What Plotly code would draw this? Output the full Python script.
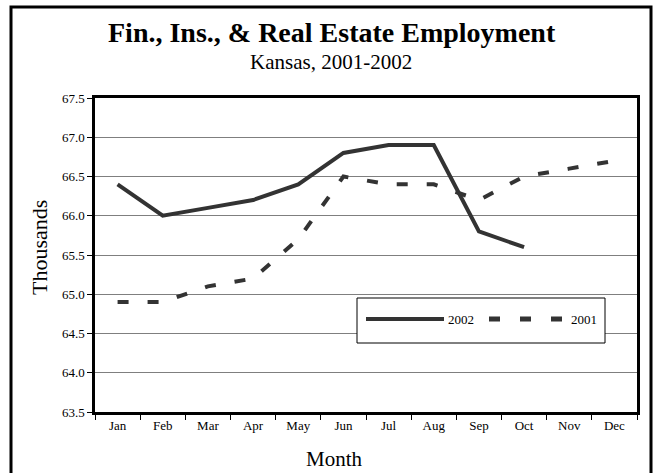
import plotly.graph_objects as go

# Monthly employment, thousands
months = ["Jan", "Feb", "Mar", "Apr", "May", "Jun",
          "Jul", "Aug", "Sep", "Oct", "Nov", "Dec"]
emp_2002 = [66.4, 66.0, 66.1, 66.2, 66.4, 66.8, 66.9, 66.9, 65.8, 65.6]
emp_2001 = [64.9, 64.9, 65.1, 65.2, 65.7, 66.5, 66.4, 66.4, 66.2, 66.5, 66.6, 66.7]
y_ticks = [63.5, 64.0, 64.5, 65.0, 65.5, 66.0, 66.5, 67.0, 67.5]

W, H = 653, 473
L, R, T, B = 95, 637, 98, 412
SERIF = "Liberation Serif, Times New Roman, serif"
INK = "#333333"


def px(x):
    return (x - L) / (R - L)


def py(y):
    return (B - y) / (B - T)


fig = go.Figure()
fig.add_trace(go.Scatter(x=months[:len(emp_2002)], y=emp_2002, mode="lines",
                         name="2002", line=dict(color=INK, width=4)))
fig.add_trace(go.Scatter(x=months, y=emp_2001, mode="lines", name="2001",
                         line=dict(color=INK, width=4, dash="11px,19px")))

shapes = [
    # outer frame
    dict(type="rect", xref="paper", yref="paper", x0=px(11), x1=px(651),
         y0=py(480), y1=py(7), line=dict(color="black", width=3),
         fillcolor="rgba(0,0,0,0)", layer="below"),
    # legend box and samples
    dict(type="rect", xref="paper", yref="paper", x0=px(357), x1=px(605),
         y0=py(343), y1=py(298), line=dict(color="black", width=1),
         fillcolor="white", layer="above"),
    dict(type="line", xref="paper", yref="paper", x0=px(366), x1=px(444),
         y0=py(319), y1=py(319), line=dict(color=INK, width=4), layer="above"),
    dict(type="line", xref="paper", yref="paper", x0=px(489), x1=px(562),
         y0=py(319), y1=py(319), line=dict(color=INK, width=5, dash="11px,20px"),
         layer="above"),
]

annotations = [
    dict(text="<b>Fin., Ins., & Real Estate Employment</b>", x=px(332), y=py(33),
         font=dict(family=SERIF, size=28, color="black")),
    dict(text="Kansas, 2001-2002", x=px(331), y=py(62),
         font=dict(family=SERIF, size=21, color="black")),
    dict(text="Thousands", x=px(39), y=py(248), textangle=-90,
         font=dict(family=SERIF, size=22, color="black")),
    dict(text="Month", x=px(334), y=py(459),
         font=dict(family=SERIF, size=21, color="black")),
    dict(text="2002", x=px(446), y=py(319), xanchor="left",
         font=dict(family=SERIF, size=13, color="black")),
    dict(text="2001", x=px(569), y=py(319), xanchor="left",
         font=dict(family=SERIF, size=13, color="black")),
]
for a in annotations:
    a.setdefault("xanchor", "center")
    a.update(xref="paper", yref="paper", yanchor="middle", showarrow=False)

fig.update_layout(
    width=W, height=H,
    margin=dict(l=L, r=W - R, t=T, b=H - B, pad=0),
    paper_bgcolor="white", plot_bgcolor="white",
    showlegend=False,
    shapes=shapes, annotations=annotations,
    font=dict(family=SERIF, size=13, color="black"),
)
fig.update_xaxes(
    type="category", categoryorder="array", categoryarray=months,
    range=[-0.5, 11.5], tickson="boundaries", ticks="outside", ticklen=5,
    tickcolor="black", showgrid=False, showline=True, linecolor="black",
    linewidth=2.5, mirror=True, tickfont=dict(family=SERIF, size=13),
)
fig.update_yaxes(
    range=[63.5, 67.5], tickvals=y_ticks, ticktext=[f"{v:.1f}" for v in y_ticks],
    ticks="outside", ticklen=5, tickcolor="black", showgrid=True,
    gridcolor="#7f7f7f", gridwidth=1, zeroline=False, showline=True,
    linecolor="black", linewidth=2.5, mirror=True,
    tickfont=dict(family=SERIF, size=13),
)

fig.write_html("out.html")
